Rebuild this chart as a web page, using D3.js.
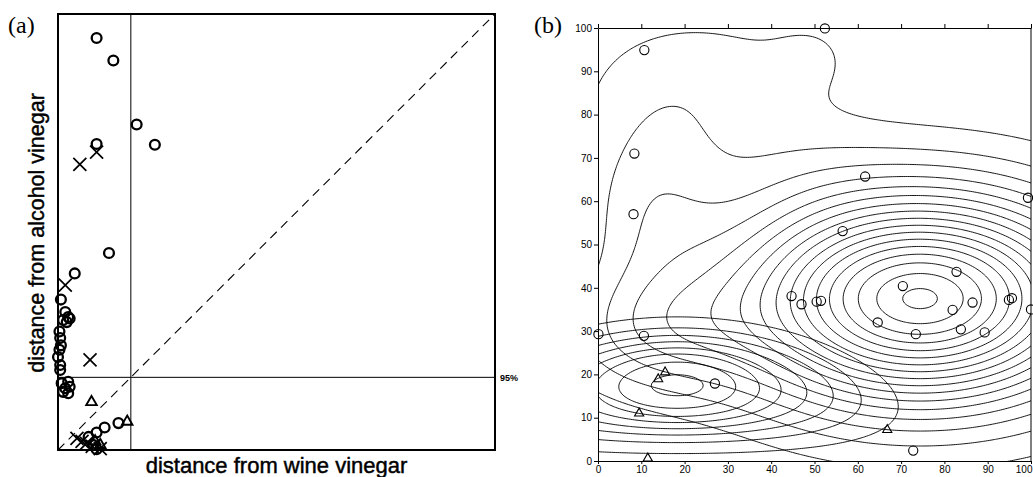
<!DOCTYPE html>
<html><head><meta charset="utf-8">
<script src="https://cdn.jsdelivr.net/npm/d3@7"></script>
<style>
html,body{margin:0;padding:0;background:#fff;}
svg{display:block;}
</style></head><body>
<svg id="chart" width="1033" height="477"></svg>
<script>
// ---------- Panel (a): distances, in units of the 95% limit ----------
const aDomain = [0, 6];
const aLimit = 1;
const aCircles = [[0.53,5.67],[0.76,5.36],[1.08,4.48],[1.33,4.20],[0.53,4.21],[0.70,2.71],[0.23,2.43],
  [0.04,2.07],[0.10,1.90],[0.14,1.83],[0.07,1.79],[0.12,1.76],[0.16,1.81],[0.02,1.63],[0.03,1.54],
  [0.04,1.44],[0.02,1.38],[0.00,1.28],[0.03,1.17],[0.03,1.10],[0.05,0.92],[0.14,0.94],[0.10,0.85],
  [0.07,0.80],[0.14,0.78],[0.16,0.87],[0.83,0.37],[0.64,0.31],[0.53,0.24],[0.42,0.18],[0.48,0.07],[0.53,0.01]];
const aCrosses = [[0.30,3.93],[0.53,4.10],[0.10,2.27],[0.44,1.24],[0.26,0.16],[0.33,0.12],[0.39,0.09],[0.47,0.05],[0.58,0.02]];
const aTriangles = [[0.46,0.66],[0.95,0.39],[0.51,0.12],[0.58,0.07]];
const aXTitle = "distance from wine vinegar";
const aYTitle = "distance from alcohol vinegar";
const aLimitLabel = "95%";

// ---------- Panel (b) ----------
const bTicks = [0,10,20,30,40,50,60,70,80,90,100];
const bCircles = [[10.7,94.9],[8.4,71.0],[8.2,57.0],[52.4,99.9],[61.7,65.7],[99.3,60.8],[56.5,53.1],
  [82.8,43.7],[70.4,40.4],[44.7,38.1],[47.0,36.2],[50.5,36.8],[51.5,37.0],[81.9,34.9],[86.5,36.6],
  [94.9,37.2],[95.6,37.6],[100,35.0],[64.6,32.0],[73.4,29.3],[83.8,30.4],[89.3,29.7],[0.1,29.3],
  [10.6,28.9],[27.0,17.9],[72.8,2.4]];
const bTriangles = [[15.5,20.5],[13.9,18.9],[9.5,11.0],[11.5,0.6],[66.8,7.2]];
// density surfaces: [cx, cy, sx, sy, weight]
const densityCircles = [[74.4,37.5,28,16.3,1.0],[14,30,16,10,0.16],[12,60,12,16,0.13],
  [25,88,20,12,0.075],[50,94,7,6,0.035],[45,68,16,10,0.03]];
const bendCircles = 0;
const levelsCircles = [0.054,0.113,0.172,0.231,0.29,0.349,0.408,0.467,0.526,0.585,0.644,0.703,0.762,0.821,0.88,0.939,0.99];
const densityTriangles = [[18.3,17.5,10,4.2,0.5],[18.3,17.5,34,10.5,0.5]];
const bendTriangles = 0.0019;
const levelsTriangles = [0.162,0.229,0.286,0.345,0.418,0.51,0.663,0.91];

const svg = d3.select('#chart');
const FONT = "'Liberation Sans', Arial, sans-serif";

// ===== Panel (a) =====
const xa = d3.scaleLinear().domain(aDomain).range([58,495]);
const ya = d3.scaleLinear().domain(aDomain).range([450,14]);
const ga = svg.append('g');
ga.append('line').attr('x1',xa(aLimit)).attr('x2',xa(aLimit)).attr('y1',ya(aDomain[0])).attr('y2',ya(aDomain[1]))
  .attr('stroke','#000').attr('stroke-width',1);
ga.append('line').attr('x1',xa(aDomain[0])).attr('x2',xa(aDomain[1])).attr('y1',ya(aLimit)).attr('y2',ya(aLimit))
  .attr('stroke','#000').attr('stroke-width',1);
ga.append('line').attr('x1',xa(aDomain[0])).attr('y1',ya(aDomain[0])).attr('x2',xa(aDomain[1])).attr('y2',ya(aDomain[1]))
  .attr('stroke','#000').attr('stroke-width',1.1).attr('stroke-dasharray','9,6');
ga.append('rect').attr('x',xa(aDomain[0])).attr('y',ya(aDomain[1]))
  .attr('width',xa(aDomain[1])-xa(aDomain[0])).attr('height',ya(aDomain[0])-ya(aDomain[1]))
  .attr('fill','none').attr('stroke','#000').attr('stroke-width',2);
ga.selectAll('circle.pa').data(aCircles).join('circle').attr('class','pa')
  .attr('cx',d=>xa(d[0])).attr('cy',d=>ya(d[1])).attr('r',4.9)
  .attr('fill','none').attr('stroke','#000').attr('stroke-width',2.3);
ga.selectAll('path.xa').data(aCrosses).join('path').attr('class','xa')
  .attr('transform',d=>`translate(${xa(d[0])},${ya(d[1])})`)
  .attr('d','M-6.5,-6.5L6.5,6.5M-6.5,6.5L6.5,-6.5').attr('stroke','#000').attr('stroke-width',1.7).attr('fill','none');
ga.selectAll('path.ta').data(aTriangles).join('path').attr('class','ta')
  .attr('transform',d=>`translate(${xa(d[0])},${ya(d[1])})`)
  .attr('d',d3.symbol(d3.symbolTriangle,48)()).attr('stroke','#000').attr('stroke-width',1.9).attr('fill','none');
ga.append('text').attr('x',xa(aDomain[1])+5).attr('y',ya(aLimit)+4).text(aLimitLabel)
  .attr('font-family',FONT).attr('font-size',9).attr('font-weight','bold');
ga.append('text').attr('x',(xa(aDomain[0])+xa(aDomain[1]))/2).attr('y',473).attr('text-anchor','middle')
  .attr('font-family',FONT).attr('font-size',22).attr('stroke','#000').attr('stroke-width',0.45).text(aXTitle);
ga.append('text').attr('transform',`translate(44,233) rotate(-90)`).attr('text-anchor','middle')
  .attr('font-family',FONT).attr('font-size',21.5).attr('stroke','#000').attr('stroke-width',0.45).text(aYTitle);
svg.append('text').attr('x',8).attr('y',33).attr('font-family',"'Liberation Serif','Times New Roman',serif")
  .attr('font-size',24).text('(a)');

// ===== Panel (b) =====
const xb = d3.scaleLinear().domain([0,100]).range([598,1031]);
const yb = d3.scaleLinear().domain([0,100]).range([461,28]);
const gb = svg.append('g');
svg.append('defs').append('clipPath').attr('id','clipb').append('rect')
  .attr('x',xb(0)).attr('y',yb(100)).attr('width',xb(100)-xb(0)).attr('height',yb(0)-yb(100));

const g0 = -30, g1 = 130, step = 0.5;
const n = Math.round((g1-g0)/step)+1;
function grid(comps, bend){
  const v = new Float64Array(n*n);
  for(let j=0;j<n;j++){
    const y = g0 + j*step;
    for(let i=0;i<n;i++){
      const x = g0 + i*step;
      let s = 0;
      for(const [cx,cy,sx,sy,w] of comps){
        const dx = x-cx;
        const dy = y-(cy - bend*dx*dx);
        s += w*Math.exp(-dx*dx/(2*sx*sx) - dy*dy/(2*sy*sy));
      }
      v[j*n+i] = s;
    }
  }
  return v;
}
const proj = d3.geoTransform({point(x,y){ this.stream.point(xb(g0+(x-0.5)*step), yb(g0+(y-0.5)*step)); }});
const gpath = d3.geoPath(proj);
const cont = gb.append('g').attr('clip-path','url(#clipb)');
function drawContours(comps, bend, levels){
  const c = d3.contours().size([n,n]).thresholds(levels)(grid(comps,bend));
  cont.append('g').selectAll('path').data(c).join('path').attr('d',gpath)
    .attr('fill','none').attr('stroke','#000').attr('stroke-width',0.9);
}
drawContours(densityCircles, bendCircles, levelsCircles);
drawContours(densityTriangles, bendTriangles, levelsTriangles);

gb.selectAll('circle.pb').data(bCircles).join('circle').attr('class','pb')
  .attr('cx',d=>xb(d[0])).attr('cy',d=>yb(d[1])).attr('r',4.6)
  .attr('fill','none').attr('stroke','#000').attr('stroke-width',1.1);
gb.selectAll('path.tb').data(bTriangles).join('path').attr('class','tb')
  .attr('transform',d=>`translate(${xb(d[0])},${yb(d[1])})`)
  .attr('d',d3.symbol(d3.symbolTriangle,36)()).attr('stroke','#000').attr('stroke-width',1.1).attr('fill','none');

function styleAxis(g){
  g.selectAll('path,line').attr('stroke','#000').attr('stroke-width',1);
  g.selectAll('text').attr('font-family',FONT).attr('font-size',10).attr('fill','#000');
}
gb.append('g').attr('transform',`translate(${xb(0)},0)`)
  .call(d3.axisLeft(yb).tickValues(bTicks).tickSize(4).tickSizeOuter(0).tickPadding(2)).call(styleAxis);
gb.append('g').attr('transform',`translate(0,${yb(100)})`)
  .call(d3.axisTop(xb).tickValues(bTicks).tickSize(4).tickSizeOuter(0).tickFormat('')).call(styleAxis);
const bottomAxis = gb.append('g').attr('transform',`translate(0,${yb(0)})`)
  .call(d3.axisBottom(xb).tickValues(bTicks).tickSize(3).tickSizeOuter(0).tickPadding(2)).call(styleAxis);
bottomAxis.selectAll('.tick text').filter(d=>d===bTicks[bTicks.length-1]).attr('text-anchor','end').attr('dx','1');
gb.append('line').attr('x1',xb(100)).attr('x2',xb(100)).attr('y1',yb(0)).attr('y2',yb(100))
  .attr('stroke','#000').attr('stroke-width',1);
svg.append('text').attr('x',534).attr('y',33).attr('font-family',"'Liberation Serif','Times New Roman',serif")
  .attr('font-size',24).text('(b)');
</script>
</body></html>
